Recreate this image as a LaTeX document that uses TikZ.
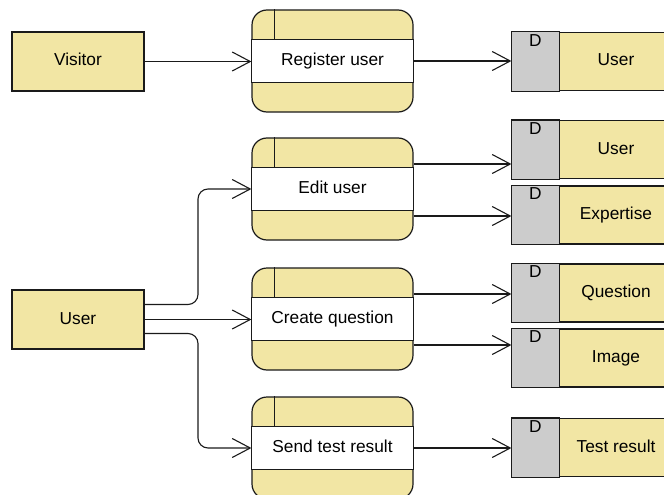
\documentclass[tikz,border=0pt]{standalone}
\usepackage{fontspec}
\setmainfont{Liberation Sans}
\usetikzlibrary{arrows.meta,calc}

\definecolor{pale}{RGB}{242,230,164}
\definecolor{storegray}{RGB}{204,204,204}
\definecolor{ink}{RGB}{26,26,26}

% process: rounded box with a white middle band and an id cell
\newcommand\procbox[3]{%
  \node[process] (#1) at (#2) {};
  \draw[border, fill=white] ($(#1.north west)+(0,30)$) rectangle ($(#1.north east)+(0,73)$);
  \draw[border] ($(#1.north west)+(23,0)$) -- ($(#1.north west)+(23,30)$);
  \node[label text] (#1-text) at ($(#1.north)+(0,51.5)$) {#3};
}

% data store: grey "D" cell followed by the store name
\newcommand\datastore[3]{%
  \node[store] (#1) at (#2) {};
  \draw[border, fill=storegray] (#1.north west) rectangle ($(#1.south west)+(48,0)$);
  \node[label text] (#1-d) at ($(#1.north west)+(24,10)$) {D};
  \node[label text] (#1-text) at ($(#1.center)+(24,0)$) {#3};
}

\begin{document}
\begin{tikzpicture}[x=1pt,y=-1pt,
  font=\fontsize{17.3}{20}\selectfont,
  border/.style={draw=ink, line width=1.2pt},
  label text/.style={inner sep=0pt, text height=12.5pt, text depth=3.5pt},
  entity/.style={border, fill=pale, minimum width=132pt, minimum height=59pt, inner sep=0pt, text height=12.5pt, text depth=3.5pt},
  process/.style={border, fill=pale, rounded corners=15pt, minimum width=161pt, minimum height=102pt, inner sep=0pt},
  store/.style={border, fill=pale, minimum width=160pt, minimum height=58pt, inner sep=0pt},
  flow/.style={draw=ink, line width=1.1pt, -{Straight Barb[length=18pt,width=19pt,line width=1.1pt]}},
]
\useasboundingbox (0,0) rectangle (664,495);

% external entities
\node[entity] (visitor) at (78,61.5) {Visitor};
\node[entity] (user) at (78,319.5) {User};

% processes
\procbox{reg}{332.5,61}{Register user}
\procbox{edit}{332.5,189}{Edit user}
\procbox{create}{332.5,319}{Create question}
\procbox{send}{332.5,448}{Send test result}

% data stores
\datastore{ustoreA}{592,61.5}{User}
\datastore{ustoreB}{592,149.5}{User}
\datastore{expertise}{592,215}{Expertise}
\datastore{question}{592,293}{Question}
\datastore{image}{592,358}{Image}
\datastore{testresult}{592,447.5}{Test result}

% attachment points of the side flows
\coordinate (e1) at ($(edit.east)+(0,-25)$);
\coordinate (e2) at ($(edit.east)+(0,27)$);
\coordinate (c1) at ($(create.east)+(0,-25)$);
\coordinate (c2) at ($(create.east)+(0,26)$);
\coordinate (u1) at ($(user.east)+(0,-15)$);
\coordinate (u3) at ($(user.east)+(0,14)$);
\coordinate (u1m) at ($(u1)!0.5!(u1 -| edit.west)$);
\coordinate (u3m) at ($(u3)!0.5!(u3 -| send.west)$);

% data flows
\draw[flow] (visitor.east) -- (visitor.east -| reg.west);
\draw[flow] (reg.east) -- (reg.east -| ustoreA.west);
\draw[flow] (e1) -- (e1 -| ustoreB.west);
\draw[flow] (e2) -- (e2 -| expertise.west);
\draw[flow] (c1) -- (c1 -| question.west);
\draw[flow] (c2) -- (c2 -| image.west);
\draw[flow] (send.east) -- (send.east -| testresult.west);

\draw[flow, rounded corners=10pt] (u1) -- (u1m) |- (edit.west);
\draw[flow] (user.east) -- (user.east -| create.west);
\draw[flow, rounded corners=10pt] (u3) -- (u3m) |- (send.west);
\end{tikzpicture}
\end{document}
